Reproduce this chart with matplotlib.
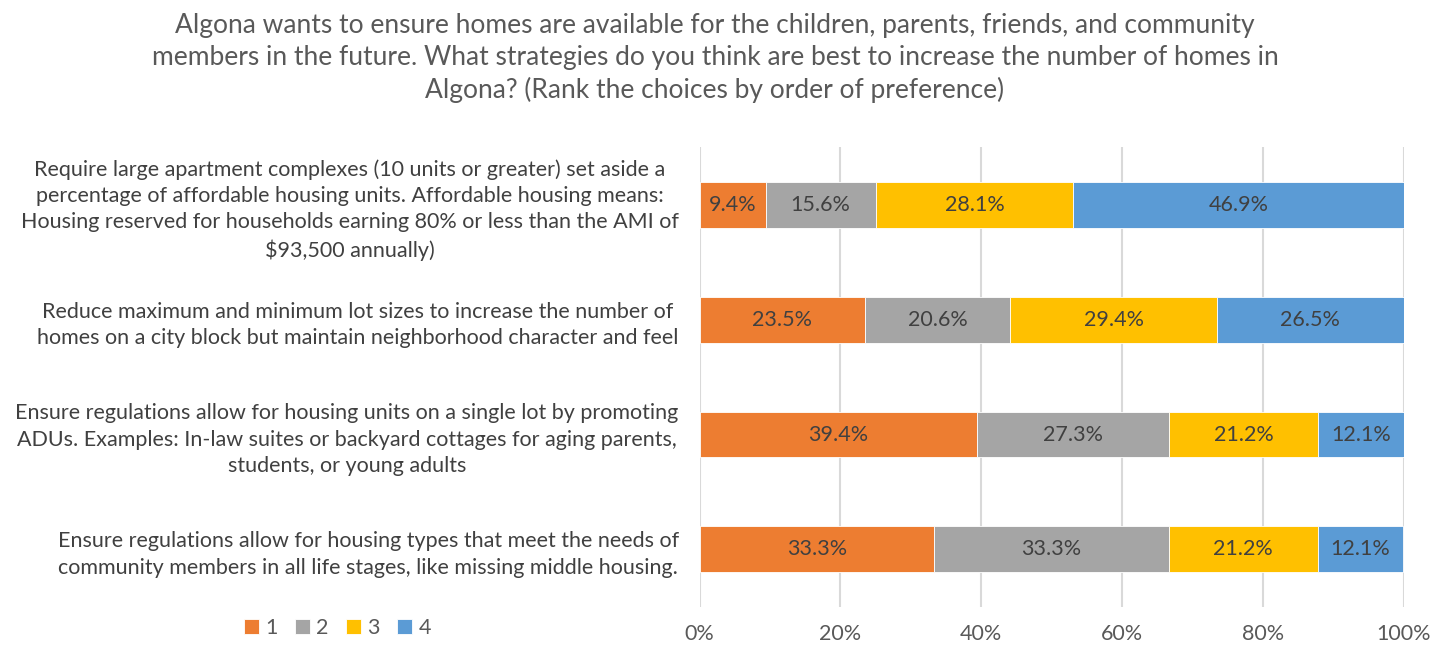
import matplotlib.pyplot as plt
import numpy as np

plt.rcParams['font.family'] = ['Lato', 'DejaVu Sans']

# Survey question and answer options
title = ("Algona wants to ensure homes are available for the children, parents, friends, and community\n"
         "members in the future. What strategies do you think are best to increase the number of homes in\n"
         "Algona? (Rank the choices by order of preference)")

strategies = [
    "Require large apartment complexes (10 units or greater) set aside a\n"
    "percentage of affordable housing units. Affordable housing means:\n"
    "Housing reserved for households earning 80% or less than the AMI of\n"
    "$93,500 annually)",
    "Reduce maximum and minimum lot sizes to increase the number of\n"
    "homes on a city block but maintain neighborhood character and feel",
    "Ensure regulations allow for housing units on a single lot by promoting\n"
    "ADUs. Examples: In-law suites or backyard cottages for aging parents,\n"
    "students, or young adults",
    "Ensure regulations allow for housing types that meet the needs of\n"
    "community members in all life stages, like missing middle housing.",
]

ranks = ["1", "2", "3", "4"]

# percent of respondents per rank, one list per rank, same order as strategies
rank1 = [9.4, 23.5, 39.4, 33.3]
rank2 = [15.6, 20.6, 27.3, 33.3]
rank3 = [28.1, 29.4, 21.2, 21.2]
rank4 = [46.9, 26.5, 12.1, 12.1]

colors = ["#ED7D31", "#A5A5A5", "#FFC000", "#5B9BD5"]

fig = plt.figure(figsize=(14.3, 6.48), dpi=100)
ax = fig.add_axes([0.4892, 0.0633, 0.4924, 0.7098])

y = np.arange(len(strategies))
left = np.zeros(len(strategies))
for name, vals, col in zip(ranks, [rank1, rank2, rank3, rank4], colors):
    vals = np.array(vals)
    ax.barh(y, vals, left=left, height=0.4, color=col, label=name,
            edgecolor="white", linewidth=0.6, zorder=3)
    for yi, l, v in zip(y, left, vals):
        ax.text(l + v / 2, yi, f"{v:.1f}%", ha="center", va="center",
                fontsize=15.5, color="#404040", zorder=4)
    left += vals

ax.set_xlim(0, 100)
ax.set_ylim(len(strategies) - 0.5, -0.5)
ax.set_xticks(np.arange(0, 101, 20))
ax.set_xticklabels([f"{t}%" for t in range(0, 101, 20)])
ax.set_yticks(y)
ax.set_yticklabels(strategies, multialignment="center", linespacing=1.4)
ax.tick_params(axis="x", length=0, pad=12, labelsize=15.5, labelcolor="#595959")
ax.tick_params(axis="y", length=0, pad=15, labelsize=15.5, labelcolor="#404040")
ax.grid(axis="x", color="#D9D9D9", linewidth=1.5, zorder=0)
for s in ax.spines.values():
    s.set_visible(False)

fig.text(0.5, 0.9105, title, ha="center", va="center", fontsize=19,
         color="#595959", linespacing=1.33)

fig.legend(loc="center", bbox_to_anchor=(0.236, 1 - 628 / 648), ncol=4,
           frameon=False, fontsize=15.5, handlelength=0.7, handleheight=0.7,
           handletextpad=0.3, columnspacing=0.8, labelcolor="#595959")

fig.savefig("out.png", dpi=100)
